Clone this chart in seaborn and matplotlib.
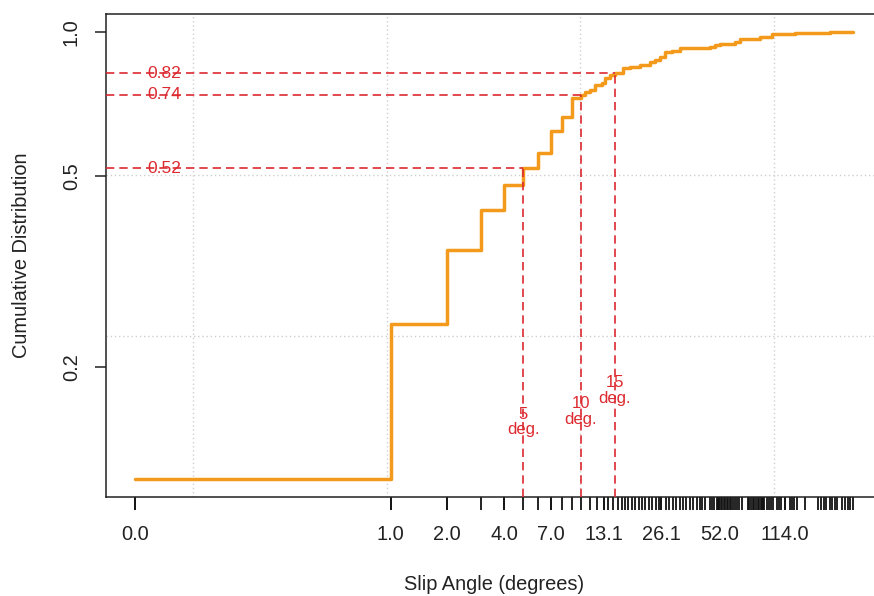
import numpy as np
import matplotlib
matplotlib.use("Agg")
import matplotlib.pyplot as plt
from matplotlib.ticker import NullLocator
import seaborn as sns

# Cumulative share reached at each observed slip angle (degrees)
angle_breaks = [0, 1, 2, 3, 4, 5, 6, 7, 8, 9, 10, 10.5, 11.2, 11.9, 12.9, 13.4, 14.2, 15,
                16.6, 18.0, 20.3, 22.8, 24.2, 25.7, 27.3, 29.6, 32.6, 46.6, 49.4, 52.5,
                62.7, 66.5, 84.4, 97.3, 127.9, 193.8, 254.7]
cum_share = [0.117, 0.246, 0.352, 0.425, 0.479, 0.52, 0.559, 0.621, 0.665, 0.727, 0.74,
             0.750, 0.757, 0.776, 0.783, 0.802, 0.814, 0.82,
             0.842, 0.846, 0.854, 0.867, 0.875, 0.888, 0.910, 0.914, 0.927, 0.932, 0.941,
             0.945, 0.954, 0.968, 0.978, 0.992, 0.9966, 0.999, 1.0]

# Distinct slip angles in the sample (rug along the x axis)
observed_angles = [0, 1, 2, 3, 4, 5, 6, 7, 8, 9, 10, 11.1, 12.1, 13.1, 13.8, 14.6, 15.5,
                   16.3, 16.9, 17.6, 18.3, 19.1, 19.9, 20.7, 21.6, 22.5, 23.4, 24.4, 25.4,
                   26.1, 27.5, 28.7, 29.9, 31.1, 32.4, 33.7, 35.1, 36.6, 38.1, 39.7, 41.3,
                   42.5, 44.0, 46.4, 47.7, 49.0, 50.5, 51, 52, 53, 54, 55, 56, 57, 58, 59,
                   60, 61, 62.5, 64.5, 66, 68.5, 73, 74.5, 76, 77.5, 79, 80.5, 82, 83.5, 85,
                   86.5, 88, 89, 91.5, 94, 96.5, 98, 103, 106, 109, 114, 120, 124, 127, 131,
                   143.6, 168, 174, 180, 186, 193, 199, 205, 210, 223, 231, 239, 247, 254.7]

# Reference thresholds and the cumulative share reached there
threshold_deg = [5, 10, 15]
threshold_share = [0.52, 0.74, 0.82]

# Labelled angles on the x axis
xtick_vals = [0.0, 1.0, 2.0, 4.0, 7.0, 13.1, 26.1, 52.0, 114.0]
ytick_vals = [0.2, 0.5, 1.0]

OFFSET = 0.05


def fwd(x):
    return np.log10(np.asarray(x, dtype=float) + OFFSET)


def inv(t):
    return 10.0 ** np.asarray(t, dtype=float) - OFFSET


sns.set_theme(style="white")
plt.rcParams["font.family"] = ["Liberation Sans", "DejaVu Sans"]

W, H = 874, 596
fig = plt.figure(figsize=(W / 100, H / 100), dpi=100)
left_px, right_px, top_px, bottom_px = 106, 881.6, 14, 497
ax = fig.add_axes([left_px / W, 1 - bottom_px / H,
                   (right_px - left_px) / W, (bottom_px - top_px) / H])

ax.set_xscale("function", functions=(fwd, inv))
ax.set_yscale("log")

# 4% padding on each side, in transformed units
tmin, tmax = fwd(min(angle_breaks)), fwd(max(angle_breaks))
tpad = 0.04 * (tmax - tmin)
xlo, xhi = inv(tmin - tpad), inv(tmax + tpad)
lmin, lmax = np.log(min(cum_share)), np.log(max(cum_share))
lpad = 0.04 * (lmax - lmin)
ylo, yhi = np.exp(lmin - lpad), np.exp(lmax + lpad)

# light dotted grid
grid_kw = dict(color="#cfcfcf", lw=1.0, linestyle=(0, (1, 2)), zorder=0)
for k in [-1, 0, 1, 2]:
    ax.axvline(inv(k), **grid_kw)
for frac in [1 / 3, 2 / 3]:
    ax.axhline(np.exp(np.log(ylo) + frac * (np.log(yhi) - np.log(ylo))), **grid_kw)

sns.lineplot(x=angle_breaks, y=cum_share, drawstyle="steps-post", color="#F39A1C",
             lw=2.5, ax=ax, zorder=3)

red = "#DC2A30"
dash = (0, (5, 3))
for t, s in zip(threshold_deg, threshold_share):
    ax.hlines(s, xlo, t, colors=red, linestyles=dash, lw=1.2, zorder=4)
    ax.vlines(t, ylo, s, colors=red, linestyles=dash, lw=1.2, zorder=4)
    ax.text(0.0748, s, f"{s:.2f}", transform=ax.get_yaxis_transform(), color=red,
            fontsize=12.5, ha="center", va="center", zorder=5)

for t, ypos in zip(threshold_deg, [0.154, 0.162, 0.179]):
    ax.text(t, ypos, f"{t}\ndeg.", color=red, fontsize=12, ha="center", va="center",
            linespacing=1.05, zorder=5)

sns.rugplot(x=observed_angles, ax=ax, height=-0.027, clip_on=False, color="#111111",
            linewidth=1.3, expand_margins=False)

ax.set_xlim(xlo, xhi)
ax.set_ylim(ylo, yhi)

ax.set_xticks(xtick_vals)
ax.set_xticklabels([f"{v:.1f}" for v in xtick_vals])
ax.xaxis.set_minor_locator(NullLocator())
ax.set_yticks(ytick_vals)
ax.set_yticklabels([f"{v:.1f}" for v in ytick_vals], rotation=90, va="center")
ax.yaxis.set_minor_locator(NullLocator())

ax.tick_params(axis="x", direction="out", length=9.2, width=1.1, color="#222222",
               pad=11.0, labelsize=14.4, labelcolor="#222222", bottom=True)
ax.tick_params(axis="y", direction="out", length=8.0, width=1.1, color="#222222",
               pad=10.0, labelsize=14.4, labelcolor="#222222", left=True)

for side in ["left", "bottom", "top", "right"]:
    ax.spines[side].set_color("#222222")
    ax.spines[side].set_linewidth(1.1)
    ax.spines[side].set_visible(True)

ax.set_xlabel("Slip Angle (degrees)", fontsize=14.4, color="#222222", va="center")
ax.xaxis.set_label_coords(0.5, -(584 - bottom_px) / (bottom_px - top_px))
ax.set_ylabel("Cumulative Distribution", fontsize=14.4, color="#222222", va="center")
ax.yaxis.set_label_coords(-(left_px - 21) / (right_px - left_px), 0.5)

fig.savefig("out.png", dpi=100)
